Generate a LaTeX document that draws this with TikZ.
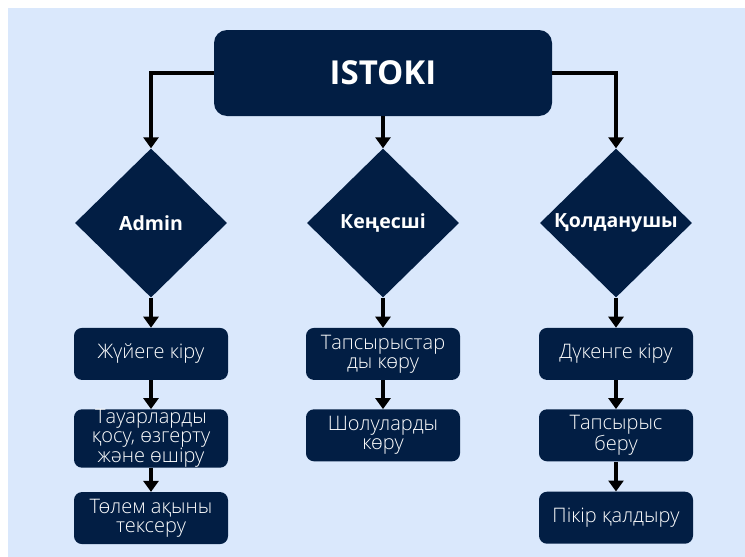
\documentclass[tikz,border=0pt]{standalone}
\usepackage{fontspec}
\setmainfont{Open Sans}
\IfFontExistsTF{Open Sans Light}{\newfontfamily\lightfont{Open Sans Light}}{\newfontfamily\lightfont{Open Sans}}
\usepackage{xcolor}
\usetikzlibrary{shapes.geometric,arrows.meta,positioning}
\definecolor{navy}{HTML}{021E44}
\definecolor{bgblue}{HTML}{DAE8FC}
\tikzset{
  head/.style={ % the title box on top
    rectangle, rounded corners=13pt, fill=navy, text=white,
    minimum width=338pt, minimum height=86pt, inner sep=0pt,
    font=\bfseries\fontsize{33}{36}\selectfont
  },
  role/.style={ % a diamond for one kind of user
    diamond, fill=navy, minimum width=152pt, minimum height=149pt,
    inner sep=0pt
  },
  roletext/.style={ % the name inside a diamond
    text=white, inner sep=0pt, font=\bfseries\fontsize{19.5}{24}\selectfont
  },
  act/.style={ % an action box
    rectangle, rounded corners=8pt, fill=navy, text=white,
    minimum width=154pt, minimum height=52pt, inner sep=0pt, align=center,
    font=\lightfont\fontsize{20}{19}\selectfont
  },
  link/.style={
    -{Triangle[width=15pt,length=11pt]}, line width=3.3pt, black
  }
}
\begin{document}
\begin{tikzpicture}[x=1pt, y=-1pt]
  \useasboundingbox (0,0) rectangle (745,557);
  \fill[bgblue] (8,8) rectangle (745,557);

  \node[head] (istoki) at (383,73) {ISTOKI};
  \node[role, label={[roletext]center:Admin}] (admin) at (151,223) {};
  \node[role, label={[roletext]center:Кеңесші}] (kenesshi) at (383,223) {};
  \node[role, label={[roletext]center:Қолданушы}] (koldanushy) at (616,223) {};

  % Admin
  \node[act, below=30pt of admin] (adm1) {Жүйеге кіру};
  \node[act, below=29pt of adm1, minimum height=58pt] (adm2) {Тауарларды\\қосу, өзгерту\\және өшіру};
  \node[act, below=24pt of adm2] (adm3) {Төлем ақыны\\тексеру};
  % Kenesshi
  \node[act, below=30pt of kenesshi] (ken1) {Тапсырыстар\\ды көру};
  \node[act, below=29pt of ken1] (ken2) {Шолуларды\\көру};
  % Koldanushy
  \node[act, below=30pt of koldanushy] (kol1) {Дүкенге кіру};
  \node[act, below=29pt of kol1] (kol2) {Тапсырыс\\беру};
  \node[act, below=30pt of kol2] (kol3) {Пікір қалдыру};

  \draw[link] (istoki.west) -| (admin.north);
  \draw[link] (istoki.south) -- (kenesshi.north);
  \draw[link] (istoki.east) -| (koldanushy.north);
  \draw[link] (admin) -- (adm1);
  \draw[link] (adm1) -- (adm2);
  \draw[link] (adm2) -- (adm3);
  \draw[link] (kenesshi) -- (ken1);
  \draw[link] (ken1) -- (ken2);
  \draw[link] (koldanushy) -- (kol1);
  \draw[link] (kol1) -- (kol2);
  \draw[link] (kol2) -- (kol3);
\end{tikzpicture}
\end{document}
